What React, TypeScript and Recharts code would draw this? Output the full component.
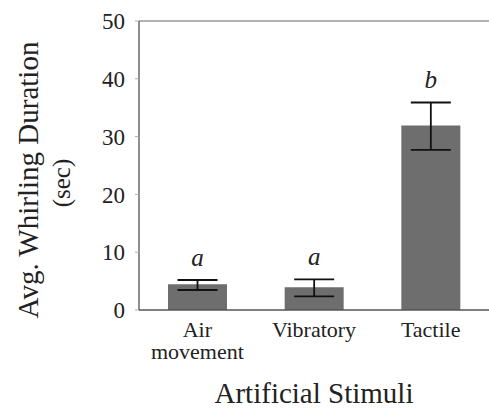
import React from 'react';
import { BarChart, Bar, XAxis, YAxis, ErrorBar, ReferenceLine } from 'recharts';

// values
const categories = ['Air movement', 'Vibratory', 'Tactile'];
const means = [4.45, 3.93, 31.9];
const errUp = [0.74, 1.37, 4.0];
const errDown = [0.99, 1.56, 4.2];
const letters = ['a', 'a', 'b'];
const yTicks = [0, 10, 20, 30, 40, 50];

const data = categories.map((name, i) => ({
  name,
  value: means[i],
  err: [errDown[i], errUp[i]],
}));

const FONT = '"Liberation Serif", "Times New Roman", serif';

const CategoryTick = (props: any) => {
  const { x, y, payload } = props;
  const lines = String(payload.value).split(' ');
  return (
    <g>
      {lines.map((line, i) => (
        <text
          key={i}
          x={x}
          y={y + 27 + i * 22}
          textAnchor="middle"
          fontFamily={FONT}
          fontSize={22}
          fill="#222"
        >
          {line}
        </text>
      ))}
    </g>
  );
};

const LetterLabel = (props: any) => {
  const { x, y, width, height, index } = props;
  // pixels per unit from the bar's own scaled height
  const pxPerUnit = height / means[index];
  const top = y - errUp[index] * pxPerUnit;
  return (
    <text
      x={x + width / 2}
      y={top - 14}
      textAnchor="middle"
      fontFamily={FONT}
      fontStyle="italic"
      fontSize={25}
      fill="#222"
    >
      {letters[index]}
    </text>
  );
};

const App: React.FC = () => {
  return (
    <div style={{ position: 'absolute', left: 0, top: 0, width: 489, height: 410, background: '#fff' }}>
      <BarChart
        width={489}
        height={410}
        data={data}
        margin={{ top: 21, right: 0, bottom: 0, left: 0 }}
        barCategoryGap="25%"
      >
        <ReferenceLine y={50} stroke="#9a9a9a" strokeWidth={1.5} ifOverflow="visible" />
        <XAxis
          dataKey="name"
          height={100}
          axisLine={{ stroke: '#555', strokeWidth: 1.5 }}
          tickLine={false}
          tickSize={0}
          tickMargin={0}
          interval={0}
          tick={<CategoryTick />}
          label={({ viewBox }: any) => (
            <text
              x={viewBox.x + viewBox.width / 2}
              y={viewBox.y + 93}
              textAnchor="middle"
              fontFamily={FONT}
              fontSize={29}
              fill="#222"
            >
              Artificial Stimuli
            </text>
          )}
        />
        <YAxis
          width={139}
          domain={[0, 50]}
          ticks={yTicks}
          interval={0}
          axisLine={{ stroke: '#444', strokeWidth: 1.2 }}
          tickLine={{ stroke: '#aaa' }}
          tickSize={4}
          tickMargin={10}
          tick={{ fontFamily: FONT, fontSize: 23, fill: '#222' }}
          label={() => (
            <g fontFamily={FONT} fill="#222">
              <text x={38} y={180} textAnchor="middle" fontSize={29} transform="rotate(-90, 38, 180)">
                Avg. Whirling Duration
              </text>
              <text x={70} y={183} textAnchor="middle" fontSize={25} transform="rotate(-90, 70, 183)">
                (sec)
              </text>
            </g>
          )}
        />
        <Bar dataKey="value" fill="#6e6e6e" barSize={59} isAnimationActive={false} label={<LetterLabel />}>
          <ErrorBar dataKey="err" width={20} stroke="#111" strokeWidth={1.8} />
        </Bar>
      </BarChart>
    </div>
  );
};

export default App;
